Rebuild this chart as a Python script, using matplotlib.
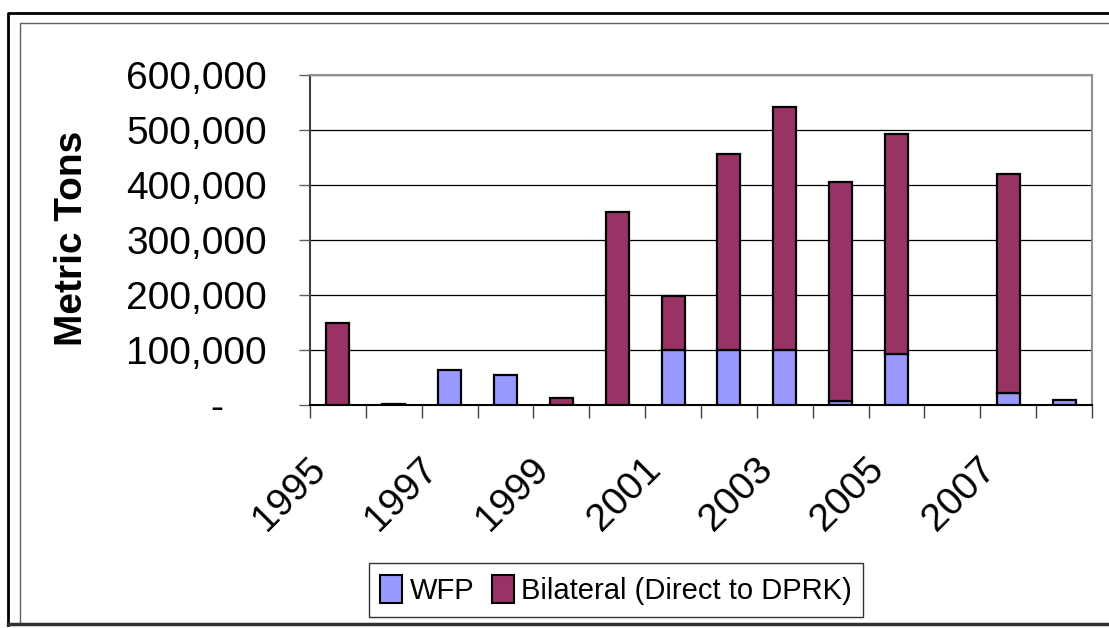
import matplotlib
matplotlib.use('Agg')
import matplotlib.pyplot as plt
from matplotlib import font_manager
from matplotlib.lines import Line2D
from matplotlib.ticker import FuncFormatter, FixedLocator
from matplotlib.transforms import ScaledTranslation
import numpy as np

years = list(range(1995, 2009))
wfp = [0, 0, 63000, 54500, 0, 0, 100000, 100000, 100000, 7300, 92700, 0, 21100, 8400]
bilateral = [150000, 2500, 0, 0, 13500, 351500, 97500, 356400, 441800, 398200, 399300, 0, 398900, 0]
yticks = [0, 100000, 200000, 300000, 400000, 500000, 600000]
labels = ['WFP', 'Bilateral (Direct to DPRK)']

wfp_color = '#9999FF'
bil_color = '#993366'

names = {f.name for f in font_manager.fontManager.ttflist}
main_font = 'Liberation Sans' if 'Liberation Sans' in names else 'DejaVu Sans'
plt.rcParams['font.family'] = [main_font, 'DejaVu Sans']

W, H = 1109, 628
fig = plt.figure(figsize=(W / 100, H / 100), dpi=100)

# plot area in pixel coordinates of the reference
left, right, top, bottom = 310, 1092, 75, 405
ax = fig.add_axes([left / W, 1 - bottom / H, (right - left) / W, (bottom - top) / H])

x = np.arange(len(years))
# no outline on empty segments
lw_wfp = [1.6 if v > 0 else 0 for v in wfp]
lw_bil = [1.6 if v > 0 else 0 for v in bilateral]
ax.bar(x, wfp, width=0.41, color=wfp_color, edgecolor='black', linewidth=lw_wfp, label=labels[0], zorder=3)
ax.bar(x, bilateral, width=0.41, bottom=wfp, color=bil_color, edgecolor='black', linewidth=lw_bil,
       label=labels[1], zorder=3)

ax.set_xlim(-0.5, len(years) - 0.5)
ax.set_ylim(0, 600000)

ax.set_yticks(yticks)
ax.yaxis.set_major_formatter(FuncFormatter(lambda v, p: '-    ' if v == 0 else '{:,.0f}'.format(v)))
ax.tick_params(axis='y', labelsize=28, length=8, width=1, color='#606060', pad=23, direction='out')
ax.yaxis.grid(True, color='black', linewidth=0.9, zorder=0)
ax.set_axisbelow(True)

# category boundaries as tick marks, odd years as labels
ax.xaxis.set_minor_locator(FixedLocator(np.arange(-0.5, len(years), 1.0)))
ax.set_xticks(x[::2])
ax.set_xticklabels([str(y) for y in years[::2]], rotation=45, ha='right', va='center',
                   rotation_mode='anchor', fontsize=28)
ax.tick_params(axis='x', which='major', length=0, pad=42)
ax.tick_params(axis='x', which='minor', length=9, width=1, color='#404040', direction='out')
shift = ScaledTranslation(-18 / 100, 0, fig.dpi_scale_trans)
for lab in ax.get_xticklabels():
    lab.set_transform(lab.get_transform() + shift)

ax.spines['left'].set_color('#404040')
ax.spines['bottom'].set_color('black')
ax.spines['top'].set_color('#909090')
ax.spines['right'].set_color('#909090')
for s in ax.spines.values():
    s.set_linewidth(1.5)

fig.text(72 / W, 1 - 238 / H, 'Metric Tons', rotation=90, fontsize=28, fontweight='bold',
         ha='center', va='center')

h1 = plt.Rectangle((0, 0), 1, 1, facecolor=wfp_color, edgecolor='black', linewidth=1.5)
h2 = plt.Rectangle((0, 0), 1, 1, facecolor=bil_color, edgecolor='black', linewidth=1.5)
leg = fig.legend([h1, h2], labels, loc='center', bbox_to_anchor=(616 / W, 1 - 590 / H), ncol=2,
                 prop={'size': 21}, frameon=True, fancybox=False,
                 edgecolor='black', handlelength=0.75, handleheight=1.1, handletextpad=0.25,
                 columnspacing=0.6, borderpad=0.4, borderaxespad=0)
leg.get_frame().set_linewidth(1)

# chart border lines (outer black, inner gray), cut off at the right edge
def px_line(xs, ys, **kw):
    fig.add_artist(Line2D([v / W for v in xs], [1 - v / H for v in ys], transform=fig.transFigure, **kw))

px_line([8, 8, W + 5], [625, 13, 13], color='black', linewidth=2)
px_line([20, 20, W + 5], [623, 23, 23], color='#606060', linewidth=1)
px_line([8, W + 5], [624, 624], color='#303030', linewidth=2.5)

fig.savefig('out.png', dpi=100)
